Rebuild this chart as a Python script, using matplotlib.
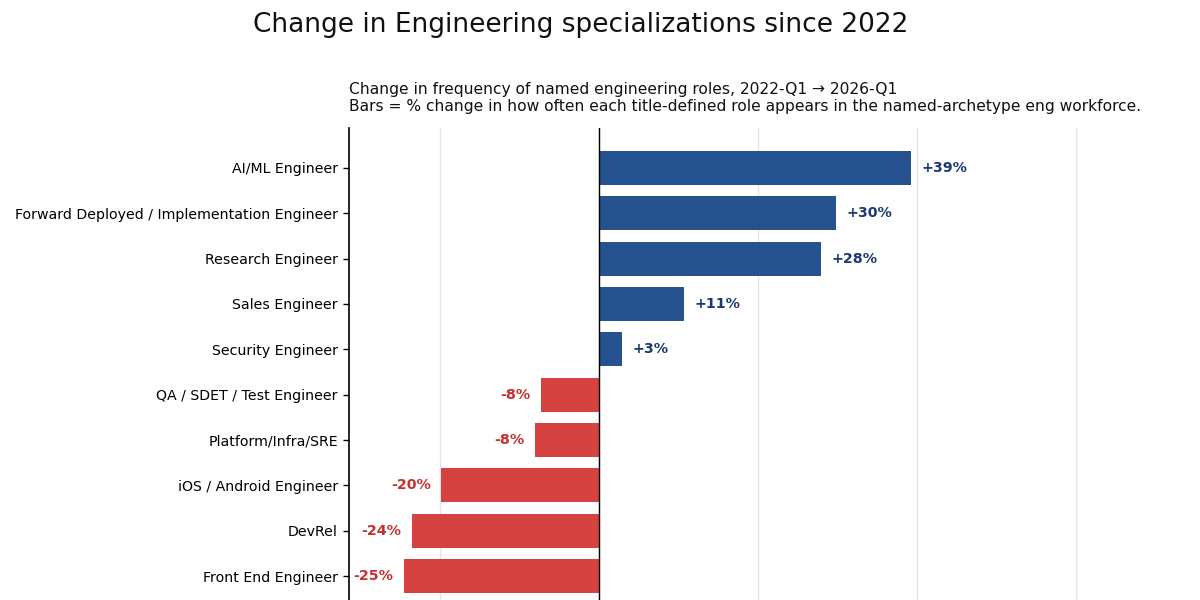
import matplotlib
matplotlib.use("Agg")
import matplotlib.pyplot as plt

roles = [
    "AI/ML Engineer",
    "Forward Deployed / Implementation Engineer",
    "Research Engineer",
    "Sales Engineer",
    "Security Engineer",
    "QA / SDET / Test Engineer",
    "Platform/Infra/SRE",
    "iOS / Android Engineer",
    "DevRel",
    "Front End Engineer",
]
pct_change = [39.2, 29.8, 27.9, 10.7, 2.9, -7.4, -8.1, -19.9, -23.6, -24.6]
value_labels = ["+39%", "+30%", "+28%", "+11%", "+3%", "-8%", "-8%", "-20%", "-24%", "-25%"]

title = "Change in Engineering specializations since 2022"
subtitle = ("Change in frequency of named engineering roles, 2022-Q1 \u2192 2026-Q1\n"
            "Bars = % change in how often each title-defined role appears in the named-archetype eng workforce.")

POS_BAR = "#1f4d8b"
NEG_BAR = "#d43c3a"
POS_TXT = "#1a3a74"
NEG_TXT = "#c8302e"

fig = plt.figure(figsize=(12, 6), dpi=100)
ax = fig.add_axes([349/1200, -16/600, (1124-349)/1200, 488/600])

y = list(range(len(roles)))
colors = [POS_BAR if v >= 0 else NEG_BAR for v in pct_change]
ax.barh(y, pct_change, height=0.75, color=colors, alpha=0.97, zorder=2)

for yi, v, lab in zip(y, pct_change, value_labels):
    if v >= 0:
        ax.annotate(lab, (v, yi), xytext=(7.5, 0), textcoords="offset points",
                    ha="left", va="center", fontsize=10.3, fontweight="bold", color=POS_TXT)
    else:
        ax.annotate(lab, (v, yi), xytext=(-7.5, 0), textcoords="offset points",
                    ha="right", va="center", fontsize=10.3, fontweight="bold", color=NEG_TXT)

ax.set_xlim(-31.5, 66)
ax.set_ylim(9.88, -0.88)
ax.set_yticks(y)
ax.set_yticklabels(roles, fontsize=10.15)
ax.set_xticks([-20, 0, 20, 40, 60])
ax.tick_params(axis="x", length=0, labelbottom=False)
ax.tick_params(axis="y", length=4, width=1, pad=4)
ax.grid(axis="x", color="#e6e6e6", linewidth=1, zorder=0)
ax.set_axisbelow(True)
ax.axvline(0, color="black", linewidth=1, zorder=3)
for s in ["top", "right", "bottom"]:
    ax.spines[s].set_visible(False)
ax.spines["left"].set_linewidth(1.2)

fig.text(349/1200, 1 - 114/600, subtitle, ha="left", va="bottom", fontsize=11.2,
         linespacing=1.15, color="#111111")
fig.text(581/1200, 1 - 25/600, title, ha="center", va="center", fontsize=19,
         color="#111111")

fig.savefig("out.png", dpi=100)
